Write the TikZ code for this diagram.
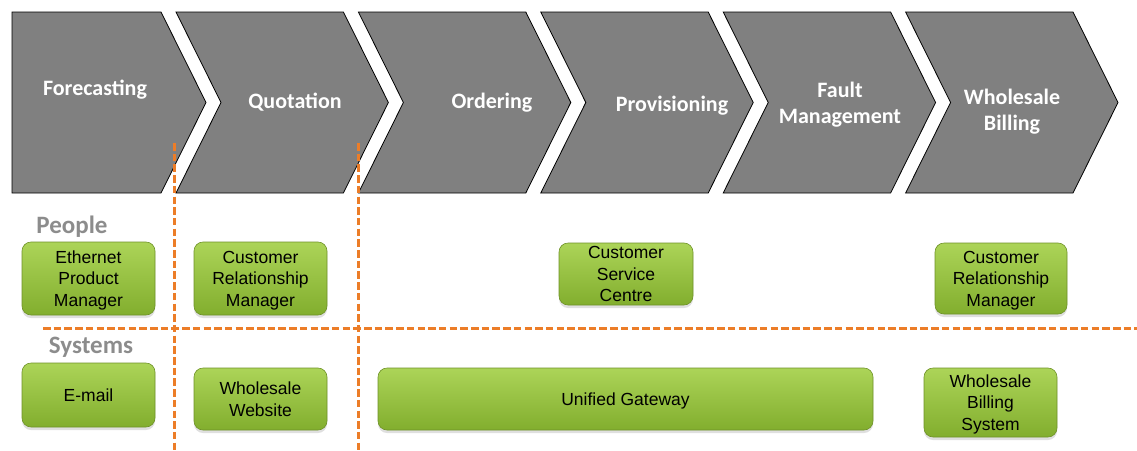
\documentclass[tikz,border=0pt]{standalone}
\usepackage{fontspec}
\setmainfont{Liberation Sans}
\newfontfamily\calibri{Carlito}
\usetikzlibrary{shadows}
\definecolor{chevgray}{RGB}{128,128,128}
\definecolor{dashorange}{RGB}{236,125,40}
\definecolor{boxtop}{RGB}{172,212,88}
\definecolor{boxbot}{RGB}{130,174,46}
\definecolor{boxedge}{RGB}{110,145,40}
\definecolor{labelgray}{RGB}{140,140,140}
\tikzset{
  chev/.style={fill=chevgray, draw=black, line width=0.8pt},
  chevtext/.style={text=white, font=\calibri\bfseries\fontsize{22}{26}\selectfont, align=center},
  rowlabel/.style={text=labelgray, font=\calibri\bfseries\fontsize{25}{28}\selectfont},
  gbox/.style={draw=boxedge, line width=0.6pt, rounded corners=9pt,
    top color=boxtop, bottom color=boxbot,
    drop shadow={shadow xshift=0pt, shadow yshift=-3pt, opacity=0.25},
    font=\fontsize{17.5}{21.5}\selectfont, align=center, inner ysep=0pt, inner xsep=1pt,
    text depth=-6pt},
  divider/.style={draw=dashorange, line width=3pt, dash pattern=on 7.5pt off 3.2pt}
}
\begin{document}
\begin{tikzpicture}[x=1pt,y=-1pt]
\useasboundingbox (0,0) rectangle (1137,450);
% chevrons
\def\T{12}\def\B{193}\def\M{102.5}\def\D{45}
\draw[chev] (12,\T) -- (161,\T) -- (206,\M) -- (161,\B) -- (12,\B) -- cycle;
\foreach \i in {1,...,5}{
  \pgfmathsetmacro\L{176+182.4*(\i-1)}
  \pgfmathsetmacro\R{161+182.4*\i}
  \draw[chev] (\L,\T) -- (\R,\T) -- (\R+\D,\M) -- (\R,\B) -- (\L,\B) -- (\L+\D,\M) -- cycle;
}
\node[chevtext] (forecasting) at (95,90) {Forecasting};
\node[chevtext] (quotation) at (295,102) {Quotation};
\node[chevtext] (ordering) at (492,103) {Ordering};
\node[chevtext] (provisioning) at (672,106) {Provisioning};
\node[chevtext] (fault) at (840,105) {Fault\\Management};
\node[chevtext] (billing) at (1012,112) {Wholesale\\Billing};
% row labels
\node[rowlabel] (people) at (72,227) {People};
\node[rowlabel] (systems) at (91,347) {Systems};
% dividers
\draw[divider] (174,143) -- (174,450);
\draw[divider] (358,143) -- (358,450);
\draw[divider] (43,328) -- (1137,328);
% people boxes
\node[gbox, minimum width=133pt, minimum height=73pt] (epm) at (88.5,278.5) {Ethernet\\Product\\Manager};
\node[gbox, minimum width=133pt, minimum height=73pt] (crm1) at (260.5,278.5) {Customer\\Relationship\\Manager};
\node[gbox, minimum width=134pt, minimum height=62pt] (csc) at (626,274) {Customer\\Service\\Centre};
\node[gbox, minimum width=132pt, minimum height=71pt] (crm2) at (1001,278.5) {Customer\\Relationship\\Manager};
% systems boxes
\node[gbox, minimum width=133pt, minimum height=64pt] (email) at (88.5,395) {E-mail};
\node[gbox, minimum width=133pt, minimum height=62pt] (website) at (260.5,399) {Wholesale\\Website};
\node[gbox, minimum width=495pt, minimum height=62pt] (gateway) at (625.5,399) {Unified Gateway};
\node[gbox, minimum width=133pt, minimum height=69pt] (wbs) at (990.5,402.5) {Wholesale\\Billing\\System};
\end{tikzpicture}
\end{document}
